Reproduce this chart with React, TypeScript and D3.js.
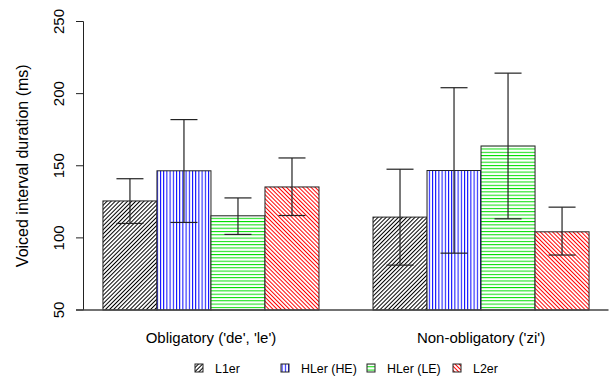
import React from 'react';
import * as d3 from 'd3';

const groups = ["Obligatory ('de', 'le')", "Non-obligatory ('zi')"];
const series = ['L1er', 'HLer (HE)', 'HLer (LE)', 'L2er'];
const means = [
  [125.6, 146.5, 115.3, 135.3],
  [114.4, 146.7, 163.7, 104.2],
];
const errLow = [
  [110.0, 110.7, 102.4, 115.5],
  [81.1, 89.4, 113.2, 88.1],
];
const errHigh = [
  [141.0, 182.0, 127.7, 155.4],
  [147.6, 204.1, 214.2, 121.3],
];
const yTicks = [50, 100, 150, 200, 250];

const colors = ['#000000', '#0000ff', '#00dd00', '#ff0000'];
// angle of the hatching for each series
const angles = [45, 0, 90, -45];
const spacing = [2.9, 3.2, 3.3, 2.9];

const W = 611;
const H = 376;

export default function App() {
  const x = d3.scaleLinear().domain([0.64, 10.36]).range([83.5, 608.5]);
  const y = d3.scaleLinear().domain([50, 250]).range([310, 21.5]);
  const font = 'Liberation Sans, Arial, sans-serif';

  return (
    <svg width={W} height={H} style={{ position: 'absolute', left: 0, top: 0, background: '#fff' }}
      fontFamily={font}>
      <defs>
        {series.map((s, i) => (
          <pattern key={s} id={`hatch${i}`} patternUnits="userSpaceOnUse"
            width={spacing[i]} height={spacing[i]}
            patternTransform={`rotate(${angles[i]})`}>
            <line x1={0.5} y1={-1} x2={0.5} y2={spacing[i] + 1}
              stroke={colors[i]} strokeWidth={1} />
          </pattern>
        ))}
      </defs>

      {means.map((row, g) => row.map((v, i) => {
        const left = 1 + g * 5 + i;
        const x0 = x(left);
        const x1 = x(left + 1);
        const xc = x(left + 0.5);
        return (
          <g key={`${g}-${i}`}>
            <rect x={x0} y={y(v)} width={x1 - x0} height={y(50) - y(v)}
              fill="#fff" />
            <rect x={x0} y={y(v)} width={x1 - x0} height={y(50) - y(v)}
              fill={`url(#hatch${i})`} stroke="#222" strokeWidth={1} />
            <line x1={xc} x2={xc} y1={y(errLow[g][i])} y2={y(errHigh[g][i])}
              stroke="#222" strokeWidth={1.2} />
            <line x1={x(left + 0.25)} x2={x(left + 0.75)} y1={y(errHigh[g][i])} y2={y(errHigh[g][i])}
              stroke="#222" strokeWidth={1.2} />
            <line x1={x(left + 0.25)} x2={x(left + 0.75)} y1={y(errLow[g][i])} y2={y(errLow[g][i])}
              stroke="#222" strokeWidth={1.2} />
          </g>
        );
      }))}

      {/* y axis */}
      <line x1={83.5} x2={83.5} y1={y(250)} y2={y(50)} stroke="#222" strokeWidth={1} />
      {yTicks.map((t) => (
        <g key={t}>
          <line x1={76} x2={83.5} y1={y(t)} y2={y(t)} stroke="#222" strokeWidth={1} />
          <text transform={`translate(63.5,${y(t)}) rotate(-90)`} textAnchor="middle"
            fontSize={15} fill="#000">{t}</text>
        </g>
      ))}
      <line x1={76} x2={x(10.36)} y1={310} y2={310} stroke="#444" strokeWidth={1.6} />

      <text transform={`translate(28,${(y(50) + y(250)) / 2}) rotate(-90)`} textAnchor="middle"
        fontSize={16} fill="#000">Voiced interval duration (ms)</text>

      {groups.map((name, g) => (
        <text key={name} x={x(3 + g * 5)} y={342.5} textAnchor="middle" fontSize={15} fill="#000">
          {name}
        </text>
      ))}

      {/* legend */}
      {series.map((s, i) => {
        const lx = 195 + i * 86;
        return (
          <g key={s}>
            <rect x={lx} y={364} width={8} height={8} fill={`url(#hatch${i})`}
              stroke="#222" strokeWidth={1} />
            <text x={lx + 20} y={372.5} fontSize={12.4} fill="#000">{s}</text>
          </g>
        );
      })}
    </svg>
  );
}
